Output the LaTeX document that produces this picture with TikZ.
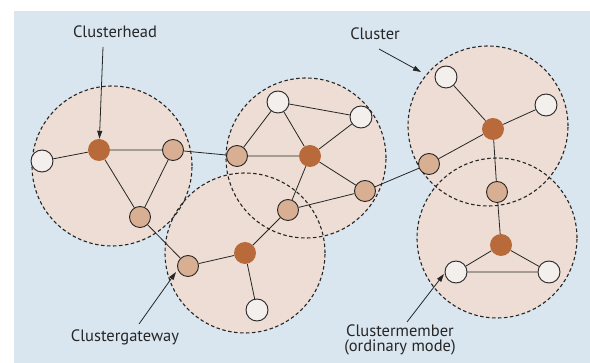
\documentclass[tikz,border=0pt]{standalone}
\usepackage{fontspec}
\setmainfont{PT Sans}
\usetikzlibrary{arrows.meta}
\definecolor{panel}{HTML}{D9E6EF}
\definecolor{clfill}{HTML}{EDDDD4}
\definecolor{headc}{HTML}{B86A3A}
\definecolor{gatec}{HTML}{D9AF93}
\definecolor{memc}{HTML}{F3EFEC}
\definecolor{ink}{HTML}{262626}
\tikzset{
  cluster/.style={circle, minimum size=160pt, inner sep=0pt},
  clborder/.style={draw=ink, line width=1.1pt, dash pattern=on 3.5pt off 2.5pt},
  head/.style={circle, fill=headc, minimum size=22pt, inner sep=0pt},
  gate/.style={circle, fill=gatec, draw=ink, line width=0.9pt, minimum size=21pt, inner sep=0pt},
  member/.style={circle, fill=memc, draw=ink, line width=0.9pt, minimum size=22pt, inner sep=0pt},
  link/.style={draw=ink, line width=0.8pt},
  callout/.style={draw=ink, line width=0.8pt, -{Triangle[length=8pt,width=5pt]}},
  lbl/.style={text=ink, font=\fontsize{16.5}{15}\selectfont, inner sep=0pt, align=center}
}
\begin{document}
\begin{tikzpicture}[x=1pt, y=-1pt]
  % canvas and panel
  \fill[white] (0,0) rectangle (590,363);
  \fill[panel] (14,11) rectangle (590,363);
  \useasboundingbox (0,0) rectangle (590,363);

  % cluster areas
  \node[cluster] (c1) at (112,166) {};
  \node[cluster] (c2) at (306,158) {};
  \node[cluster] (c3) at (245,253) {};
  \node[cluster] (c4) at (488,126) {};
  \node[cluster] (c5) at (497,238) {};
  \foreach \c in {c1,c2,c3,c4,c5}
    \fill[clfill] (\c) circle (80pt);
  \foreach \c in {c1,c2,c3,c4,c5}
    \draw[clborder] (\c) circle (80pt);

  % cluster 1
  \node[member] (w1) at (42,161) {};
  \node[head]   (h1) at (99,150) {};
  \node[gate]   (g1a) at (173,150) {};
  \node[gate]   (g1b) at (140,217) {};
  % cluster 2
  \node[gate]   (g2a) at (237,156) {};
  \node[member] (w2a) at (278,102) {};
  \node[member] (w2b) at (361,117) {};
  \node[head]   (h2) at (310,156) {};
  \node[gate]   (g2b) at (365,191) {};
  \node[gate]   (g23) at (288,210) {};
  % cluster 3
  \node[gate]   (g3) at (188,266) {};
  \node[head]   (h3) at (245,253) {};
  \node[member] (w3) at (257,310) {};
  % cluster 4
  \node[member] (w4a) at (446,77) {};
  \node[member] (w4b) at (546,105) {};
  \node[head]   (h4) at (493,129) {};
  \node[gate]   (g4a) at (429,164) {};
  \node[gate]   (g4b) at (497,192) {};
  % cluster 5
  \node[head]   (h5) at (501,245) {};
  \node[member] (w5a) at (456,272) {};
  \node[member] (w5b) at (549,272) {};

  % links
  \path[link] (w1) -- (h1) (h1) -- (g1a) (h1) -- (g1b) (g1a) -- (g1b)
    (g1b) -- (g3) (g1a) -- (g2a)
    (g2a) -- (w2a) (g2a) -- (h2) (w2a) -- (h2) (w2a) -- (w2b) (h2) -- (w2b)
    (h2) -- (g2b) (h2) -- (g23) (g23) -- (g2b) (g2b) -- (g4a)
    (g3) -- (h3) (h3) -- (w3) (h3) -- (g23)
    (w4a) -- (h4) (w4b) -- (h4) (h4) -- (g4a) (h4) -- (g4b) (g4b) -- (h5)
    (h5) -- (w5a) (h5) -- (w5b) (w5a) -- (w5b);

  % labels and callouts
  \node[lbl] (t1) at (115,32) {Clusterhead};
  \node[lbl] (t2) at (375,34) {Cluster};
  \node[lbl] (t3) at (125,337) {Clustergateway};
  \node[lbl] (t4) at (400,340) {Clustermember\\(ordinary mode)};
  \coordinate (a1) at (103,47);
  \coordinate (a2) at (379,49);
  \coordinate (e2) at (421,72);
  \coordinate (a3) at (139,324);
  \coordinate (e3) at (176,272);
  \coordinate (a4) at (407,322);
  \coordinate (e4) at (444,274);
  \draw[callout] (a1) -- (h1);
  \draw[callout] (a2) -- (e2);
  \draw[callout] (a3) -- (e3);
  \draw[callout] (a4) -- (e4);
\end{tikzpicture}
\end{document}
